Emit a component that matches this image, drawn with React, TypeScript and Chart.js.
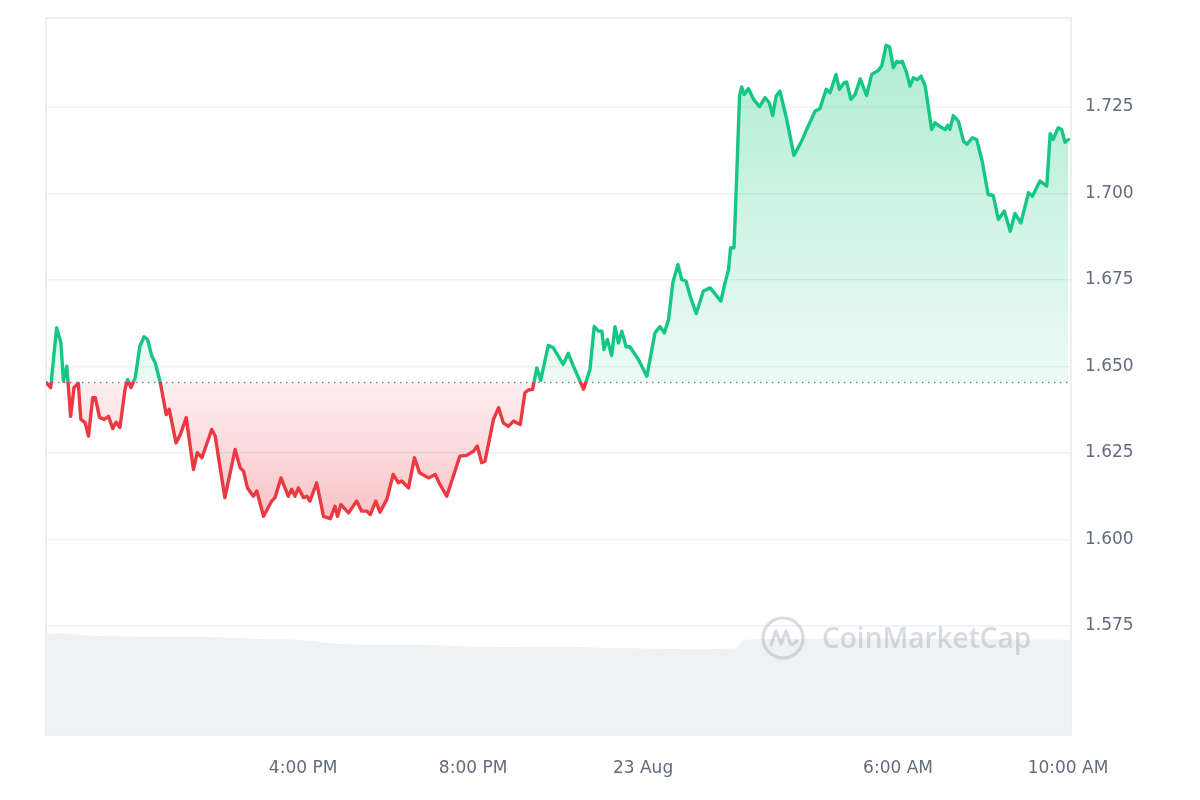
import React, { useEffect, useRef } from 'react';
import { Chart, registerables } from 'chart.js';

Chart.register(...registerables);

// Opening price of the 24h window (dotted reference line)
const OPEN_PRICE = 1.6454;

// Time in hours since 22 Aug 00:00
const times = [
  9.95, 10.06, 10.20, 10.30, 10.36, 10.44, 10.53, 10.61, 10.71, 10.77,
  10.87, 10.95, 11.05, 11.11, 11.21, 11.32, 11.42, 11.52, 11.60, 11.69,
  11.81, 11.87, 11.95, 12.05, 12.16, 12.26, 12.34, 12.44, 12.52, 12.64,
  12.78, 12.85, 13.01, 13.11, 13.25, 13.42, 13.51, 13.62, 13.85, 13.93,
  14.16, 14.40, 14.52, 14.60, 14.69, 14.83, 14.91, 15.07, 15.26, 15.34,
  15.48, 15.65, 15.73, 15.81, 15.89, 16.01, 16.09, 16.16, 16.32, 16.48,
  16.64, 16.75, 16.81, 16.89, 17.07, 17.26, 17.38, 17.50, 17.58, 17.71,
  17.81, 17.97, 18.12, 18.24, 18.32, 18.48, 18.62, 18.74, 18.95, 19.11,
  19.22, 19.38, 19.69, 19.85, 20.01, 20.10, 20.20, 20.28, 20.48, 20.60,
  20.71, 20.83, 20.95, 21.11, 21.22, 21.30, 21.40, 21.50, 21.59, 21.77,
  21.89, 22.12, 22.24, 22.36, 22.60, 22.75, 22.85, 22.95, 23.03, 23.08,
  23.16, 23.26, 23.34, 23.42, 23.50, 23.60, 23.69, 23.89, 24.09, 24.28,
  24.40, 24.50, 24.60, 24.70, 24.82, 24.91, 25.01, 25.11, 25.25, 25.42,
  25.58, 25.83, 25.93, 26.01, 26.06, 26.14, 26.20, 26.27, 26.32, 26.38,
  26.48, 26.60, 26.74, 26.87, 26.97, 27.05, 27.13, 27.22, 27.38, 27.55,
  27.73, 27.85, 28.05, 28.16, 28.31, 28.40, 28.54, 28.62, 28.73, 28.79,
  28.89, 28.99, 29.11, 29.26, 29.38, 29.54, 29.62, 29.72, 29.80, 29.89,
  29.97, 30.01, 30.10, 30.20, 30.28, 30.36, 30.46, 30.54, 30.64, 30.79,
  30.87, 30.99, 31.11, 31.17, 31.22, 31.30, 31.42, 31.54, 31.62, 31.75,
  31.85, 31.98, 32.12, 32.24, 32.36, 32.50, 32.64, 32.75, 32.89, 33.07,
  33.16, 33.34, 33.50, 33.58, 33.65, 33.77, 33.85, 33.93, 34.01,
];

// Price in USD
const prices = [
  1.6454, 1.6439, 1.6612, 1.6569, 1.6458, 1.6501, 1.6356, 1.6439, 1.6451, 1.6347,
  1.6338, 1.6299, 1.6410, 1.6410, 1.6353, 1.6347, 1.6356, 1.6321, 1.6339, 1.6324,
  1.6434, 1.6462, 1.6439, 1.6468, 1.6559, 1.6586, 1.6578, 1.6530, 1.6511, 1.6453,
  1.6361, 1.6376, 1.6279, 1.6303, 1.6352, 1.6202, 1.6251, 1.6236, 1.6318, 1.6299,
  1.6121, 1.6260, 1.6207, 1.6197, 1.6149, 1.6125, 1.6140, 1.6067, 1.6111, 1.6121,
  1.6178, 1.6125, 1.6145, 1.6125, 1.6149, 1.6121, 1.6125, 1.6111, 1.6164, 1.6067,
  1.6060, 1.6096, 1.6067, 1.6101, 1.6077, 1.6111, 1.6082, 1.6082, 1.6072, 1.6111,
  1.6079, 1.6116, 1.6188, 1.6164, 1.6169, 1.6149, 1.6236, 1.6193, 1.6178, 1.6188,
  1.6159, 1.6125, 1.6241, 1.6243, 1.6255, 1.6270, 1.6222, 1.6226, 1.6347, 1.6381,
  1.6337, 1.6327, 1.6342, 1.6332, 1.6424, 1.6432, 1.6434, 1.6496, 1.6460, 1.6561,
  1.6554, 1.6506, 1.6538, 1.6501, 1.6434, 1.6491, 1.6616, 1.6602, 1.6602, 1.6549,
  1.6578, 1.6532, 1.6615, 1.6568, 1.6602, 1.6557, 1.6557, 1.6520, 1.6472, 1.6597,
  1.6615, 1.6597, 1.6636, 1.6742, 1.6795, 1.6751, 1.6747, 1.6703, 1.6653, 1.6718,
  1.6727, 1.6689, 1.6742, 1.6780, 1.6843, 1.6843, 1.7040, 1.7281, 1.7308, 1.7286,
  1.7303, 1.7272, 1.7251, 1.7277, 1.7262, 1.7225, 1.7281, 1.7296, 1.7214, 1.7110,
  1.7151, 1.7185, 1.7238, 1.7245, 1.7301, 1.7291, 1.7344, 1.7301, 1.7320, 1.7322,
  1.7272, 1.7286, 1.7331, 1.7283, 1.7344, 1.7356, 1.7370, 1.7428, 1.7424, 1.7363,
  1.7382, 1.7378, 1.7382, 1.7349, 1.7310, 1.7334, 1.7329, 1.7339, 1.7310, 1.7185,
  1.7204, 1.7193, 1.7185, 1.7197, 1.7185, 1.7225, 1.7209, 1.7151, 1.7142, 1.7161,
  1.7156, 1.7093, 1.6997, 1.6994, 1.6925, 1.6949, 1.6891, 1.6942, 1.6915, 1.7002,
  1.6992, 1.7036, 1.7021, 1.7173, 1.7156, 1.7190, 1.7185, 1.7148, 1.7156,
];

// Trading volume (millions, relative) along the bottom band
const volumeTimes = [9.95, 10.3, 11.2, 13.6, 15.0, 15.9, 16.9, 18.75, 20.25, 22.05, 23.7, 26.15, 26.4, 34.07];
const volumes = [14.1, 14.2, 13.8, 13.7, 13.4, 13.3, 12.7, 12.6, 12.3, 12.3, 12.1, 12.1, 13.3, 13.3];

const xTickValues = [16, 20, 24, 30, 34];
const yTickValues = [1.575, 1.6, 1.625, 1.65, 1.675, 1.7, 1.725];
const X_MIN = 9.95;
const X_MAX = 34.07;
const Y_MIN = 1.5435;
const Y_MAX = 1.7507;

const GREEN = '22,199,132';
const RED = '234,57,67';

function formatTime(t: number): string {
  if (t % 24 === 0) return t === 24 ? '23 Aug' : '22 Aug';
  const h = Math.floor(t % 24);
  const m = Math.round((t - Math.floor(t)) * 60);
  const ampm = h >= 12 ? 'PM' : 'AM';
  const h12 = h % 12 === 0 ? 12 : h % 12;
  return `${h12}:${String(m).padStart(2, '0')} ${ampm}`;
}

function baseFrac(chart: any): number | null {
  const { chartArea, scales } = chart;
  if (!chartArea || !scales || !scales.y) return null;
  const yb = scales.y.getPixelForValue(OPEN_PRICE);
  const f = (yb - chartArea.top) / (chartArea.bottom - chartArea.top);
  return Math.min(1, Math.max(0, f));
}

function lineGradient(chart: any) {
  const s = baseFrac(chart);
  if (s === null) return `rgb(${GREEN})`;
  const { ctx, chartArea } = chart;
  const g = ctx.createLinearGradient(0, chartArea.top, 0, chartArea.bottom);
  g.addColorStop(0, `rgb(${GREEN})`);
  g.addColorStop(s, `rgb(${GREEN})`);
  g.addColorStop(Math.min(1, s + 0.0001), `rgb(${RED})`);
  g.addColorStop(1, `rgb(${RED})`);
  return g;
}

function fillGradient(chart: any) {
  const s = baseFrac(chart);
  if (s === null) return `rgba(${GREEN},0.2)`;
  const { ctx, chartArea, scales } = chart;
  const h = chartArea.bottom - chartArea.top;
  const low = Math.min(...prices);
  const sl = Math.min(1, Math.max(s + 0.001, (scales.y.getPixelForValue(low) - chartArea.top) / h));
  const g = ctx.createLinearGradient(0, chartArea.top, 0, chartArea.bottom);
  g.addColorStop(0, `rgba(${GREEN},0.36)`);
  g.addColorStop(s, `rgba(${GREEN},0.08)`);
  g.addColorStop(Math.min(1, s + 0.0001), `rgba(${RED},0.08)`);
  g.addColorStop(sl, `rgba(${RED},0.3)`);
  g.addColorStop(1, `rgba(${RED},0.3)`);
  return g;
}

const framePlugin = {
  id: 'frame',
  beforeDatasetsDraw(chart: any) {
    const { ctx, chartArea: a } = chart;
    ctx.save();
    ctx.strokeStyle = '#e6e9ed';
    ctx.lineWidth = 1.5;
    ctx.strokeRect(a.left, a.top, a.right - a.left, a.bottom - a.top);
    ctx.restore();
  },
};

const watermarkPlugin = {
  id: 'watermark',
  afterDatasetsDraw(chart: any) {
    const { ctx, chartArea: a } = chart;
    const cx = a.right - 288;
    const cy = a.bottom - 97;
    ctx.save();
    ctx.strokeStyle = 'rgba(150,160,180,0.38)';
    ctx.fillStyle = 'rgba(150,160,180,0.38)';
    ctx.lineWidth = 3.2;
    ctx.lineJoin = 'round';
    ctx.lineCap = 'round';
    ctx.beginPath();
    ctx.arc(cx, cy, 20, 0, Math.PI * 2);
    ctx.stroke();
    ctx.beginPath();
    ctx.moveTo(cx - 12, cy + 7);
    ctx.lineTo(cx - 7, cy - 7);
    ctx.lineTo(cx - 2, cy + 6);
    ctx.lineTo(cx + 3, cy - 7);
    ctx.lineTo(cx + 7, cy + 5);
    ctx.quadraticCurveTo(cx + 10, cy + 8, cx + 14, cy + 3);
    ctx.stroke();
    ctx.font = '600 28px "Open Sans", "Liberation Sans", Arial, sans-serif';
    ctx.textBaseline = 'middle';
    ctx.textAlign = 'left';
    ctx.fillText('CoinMarketCap', cx + 39, cy + 2);
    ctx.restore();
  },
};

export default function App() {
  const canvasRef = useRef<HTMLCanvasElement | null>(null);

  useEffect(() => {
    const canvas = canvasRef.current;
    if (!canvas) return;
    const tickFont = { family: '"DejaVu Sans", Arial, sans-serif', size: 17 };
    const tickColor = '#626c7d';
    const chart = new Chart(canvas, {
      type: 'line',
      data: {
        datasets: [
          {
            label: 'Price',
            data: times.map((t, i) => ({ x: t, y: prices[i] })),
            yAxisID: 'y',
            borderWidth: 3.4,
            pointRadius: 0,
            tension: 0,
            borderJoinStyle: 'round',
            borderCapStyle: 'round',
            borderColor: (c: any) => lineGradient(c.chart),
            backgroundColor: (c: any) => fillGradient(c.chart),
            fill: { target: { value: OPEN_PRICE } },
            order: 0,
          } as any,
          {
            label: 'Open',
            data: [
              { x: X_MIN, y: OPEN_PRICE },
              { x: X_MAX, y: OPEN_PRICE },
            ],
            yAxisID: 'y',
            borderColor: '#7d8596',
            borderWidth: 1.5,
            borderDash: [1.5, 4.5],
            pointRadius: 0,
            fill: false,
            order: 1,
          },
          {
            label: 'Volume',
            data: volumeTimes.map((t, i) => ({ x: t, y: volumes[i] })),
            yAxisID: 'yVol',
            borderWidth: 0,
            borderColor: 'rgba(0,0,0,0)',
            backgroundColor: '#eff2f5',
            pointRadius: 0,
            tension: 0.3,
            fill: 'origin',
            order: 2,
          },
        ],
      },
      options: {
        responsive: false,
        animation: false,
        layout: { padding: { left: 46, top: 18, right: 0, bottom: 0 } },
        plugins: {
          legend: { display: false },
          tooltip: { enabled: false },
        },
        scales: {
          x: {
            type: 'linear',
            min: X_MIN,
            max: X_MAX,
            afterBuildTicks: (s: any) => {
              s.ticks = xTickValues.map((v) => ({ value: v }));
            },
            afterFit: (s: any) => {
              s.height = 65;
              s.paddingLeft = 0;
              s.paddingRight = 0;
            },
            grid: { display: false },
            border: { display: false },
            ticks: {
              autoSkip: false,
              maxRotation: 0,
              padding: 15,
              color: tickColor,
              font: tickFont,
              callback: (v: any) => formatTime(Number(v)),
            },
          },
          y: {
            position: 'right',
            min: Y_MIN,
            max: Y_MAX,
            afterBuildTicks: (s: any) => {
              s.ticks = yTickValues.map((v) => ({ value: v }));
            },
            afterFit: (s: any) => {
              s.width = 129;
              s.paddingTop = 0;
              s.paddingBottom = 0;
            },
            grid: { color: '#eff1f4', lineWidth: 1.5, drawTicks: false },
            border: { display: false },
            ticks: {
              padding: 14,
              color: tickColor,
              font: tickFont,
              callback: (v: any) => Number(v).toFixed(3),
            },
          },
          yVol: {
            display: false,
            min: 0,
            max: 100,
          },
        },
      } as any,
      plugins: [framePlugin, watermarkPlugin],
    });
    return () => chart.destroy();
  }, []);

  return (
    <div style={{ position: 'fixed', left: 0, top: 0, width: 1200, height: 800, background: '#ffffff' }}>
      <canvas ref={canvasRef} width={1200} height={800} style={{ width: 1200, height: 800, display: 'block' }} />
    </div>
  );
}
